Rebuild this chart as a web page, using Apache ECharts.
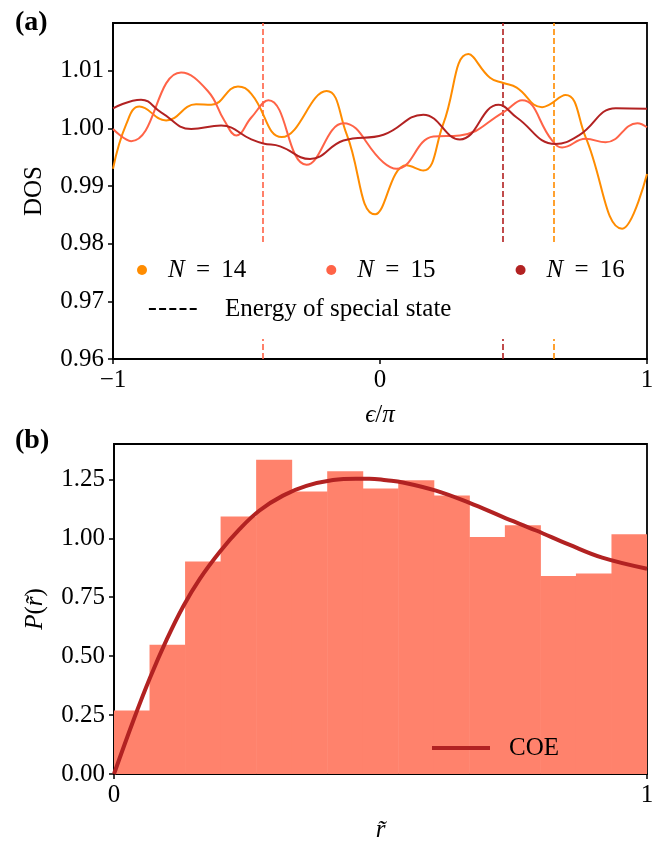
<!DOCTYPE html>
<html>
<head>
<meta charset="utf-8">
<script src="https://cdn.jsdelivr.net/npm/echarts@6/dist/echarts.min.js"></script>
<style>
  html, body { margin: 0; padding: 0; background: #fff; }
  #chart { width: 672px; height: 844px; }
</style>
</head>
<body>
<div id="chart"></div>
<script>
// panel (a): density of states
const n14X = [-1.0, -0.95, -0.901, -0.801, -0.689, -0.632, -0.532, -0.482, -0.368, -0.2, -0.125, -0.018, 0.099, 0.162, 0.237, 0.331, 0.412, 0.462, 0.512, 0.607, 0.695, 0.77, 0.907, 1.0]
const n14Y = [0.993, 1.0008, 1.0038, 1.0014, 1.0042, 1.0041, 1.0073, 1.006, 0.9985, 1.0065, 0.999, 0.9851, 0.9936, 0.9927, 1.0008, 1.0129, 1.0088, 1.0079, 1.0071, 1.0037, 1.0058, 0.9985, 0.9826, 0.9921]
const n15X = [-1.0, -0.932, -0.745, -0.645, -0.582, -0.538, -0.482, -0.418, -0.275, -0.137, 0.013, 0.062, 0.2, 0.299, 0.462, 0.532, 0.645, 0.682, 0.77, 0.845, 0.964, 1.0]
const n15Y = [0.9999, 0.9978, 1.0097, 1.0065, 1.0013, 0.9988, 1.0019, 1.0049, 0.9937, 1.0009, 0.9941, 0.993, 0.9986, 0.9988, 1.0028, 1.0049, 0.9979, 0.9967, 0.9982, 0.9976, 1.0009, 1.0002]
const n16X = [-1.0, -0.895, -0.82, -0.707, -0.595, -0.482, -0.437, -0.374, -0.262, -0.137, 0.013, 0.162, 0.299, 0.444, 0.512, 0.657, 0.745, 0.883, 1.0]
const n16Y = [1.0035, 1.005, 1.0028, 0.9999, 1.0005, 0.9981, 0.9974, 0.9969, 0.9947, 0.9979, 0.9989, 1.0024, 0.9981, 1.0041, 1.0019, 0.9973, 0.9988, 1.0035, 1.0034]
const specialE = { 'N = 14': 0.653, 'N = 15': -0.443, 'N = 16': 0.463 }
const dosTicks = [0.96, 0.97, 0.98, 0.99, 1.0, 1.01]
const epsTicks = [-1, 0, 1]

// panel (b): ratio histogram (15 bins on [0,1]) and COE curve
const histValues = [0.269, 0.548, 0.901, 1.092, 1.333, 1.198, 1.284, 1.211, 1.246, 1.181, 1.005, 1.055, 0.84, 0.851, 1.017]
const coeR = [0, 0.036, 0.067, 0.099, 0.13, 0.161, 0.199, 0.236, 0.273, 0.317, 0.361, 0.411, 0.454, 0.479, 0.511, 0.542, 0.604, 0.667, 0.729, 0.792, 0.854, 0.916, 1.0]
const coeP = [0, 0.225, 0.405, 0.571, 0.712, 0.828, 0.944, 1.04, 1.118, 1.181, 1.222, 1.247, 1.253, 1.253, 1.246, 1.237, 1.202, 1.15, 1.091, 1.033, 0.973, 0.918, 0.871]
const pTicks = [0, 0.25, 0.5, 0.75, 1.0, 1.25]
const rTicks = [0, 1]

const FONT = 'Liberation Serif'
const FS = 25
const colors = { 'N = 14': '#ff8c00', 'N = 15': '#ff6347', 'N = 16': '#b22222' }

const chart = echarts.init(document.getElementById('chart'))

const zip = (xs, ys) => xs.map((x, i) => [x, ys[i]])
const bins = histValues.map((h, i) => [i / histValues.length, (i + 1) / histValues.length, h])
const italic = { i: { fontStyle: 'italic', fontFamily: FONT, fontSize: FS, color: '#000' } }

function axis (ticks, extra, labelFmt) {
  return {
    type: 'value',
    axisLine: { show: true, onZero: false, lineStyle: { color: '#000', width: 1.8 } },
    axisTick: { show: true, inside: false, length: 5, customValues: ticks, lineStyle: { color: '#000', width: 1.5 } },
    axisLabel: { customValues: ticks, fontFamily: FONT, fontSize: FS, color: '#000', margin: 9, formatter: labelFmt },
    splitLine: { show: false },
    nameLocation: 'middle',
    nameTextStyle: { fontFamily: FONT, fontSize: FS, color: '#000', rich: italic },
    ...extra
  }
}
const minus = v => String(v).replace('-', '\u2212')
const two = v => v.toFixed(2)

function dosSeries (name, xs, ys) {
  return {
    name,
    type: 'line',
    xAxisIndex: 0,
    yAxisIndex: 0,
    data: zip(xs, ys),
    smooth: 0.45,
    symbol: 'none',
    lineStyle: { color: colors[name], width: 2 },
    itemStyle: { color: colors[name] },
    z: 2,
    markLine: {
      z: 2,
      silent: true,
      symbol: 'none',
      label: { show: false },
      lineStyle: { color: colors[name], type: [6, 3], width: 1.8, opacity: 0.9 },
      data: [{ xAxis: specialE[name] }]
    }
  }
}

const hiddenSymbol = { color: 'rgba(0,0,0,0)', borderWidth: 0, opacity: 0 }

chart.setOption({
  animation: false,
  textStyle: { fontFamily: FONT },
  title: [
    { text: '(a)', left: 10, top: 4, textStyle: { fontFamily: FONT, fontSize: 28, fontWeight: 'bold', color: '#000' } },
    { text: '(b)', left: 10, top: 422, textStyle: { fontFamily: FONT, fontSize: 28, fontWeight: 'bold', color: '#000' } }
  ],
  grid: [
    { left: 113, top: 23, width: 534, height: 336, show: true, borderColor: '#000', borderWidth: 1.8, backgroundColor: 'transparent' },
    { left: 114, top: 444, width: 533, height: 337, show: true, borderColor: '#000', borderWidth: 1.8, backgroundColor: 'transparent' }
  ],
  xAxis: [
    axis(epsTicks, { gridIndex: 0, min: -1, max: 1, name: '{i|\u03f5}/{i|\u03c0}', nameGap: 44 }, minus),
    axis(rTicks, { gridIndex: 1, min: 0, max: 1, name: '{i|r\u0303}', nameGap: 44 }, v => String(v))
  ],
  yAxis: [
    axis(dosTicks, { gridIndex: 0, min: 0.96, max: 1.0183, name: 'DOS', nameGap: 66 }, two),
    axis(pTicks, { gridIndex: 1, min: 0, max: 1.4, name: '{i|P}({i|r\u0303})', nameGap: 66 }, two)
  ],
  legend: [
    {
      data: ['N = 14', 'N = 15', 'N = 16'],
      left: 116,
      top: 244,
      orient: 'horizontal',
      icon: 'circle',
      itemWidth: 10,
      itemHeight: 10,
      itemGap: 80,
      padding: [13, 6, 56, 21],
      backgroundColor: '#fff',
      selectedMode: false,
      z: 6,
      formatter: n => '{i|N} \u2009= \u2009' + n.slice(4),
      textStyle: {
        fontFamily: FONT,
        fontSize: FS,
        lineHeight: 26,
        color: '#000',
        padding: [0, 0, 0, 16],
        rich: { i: { fontStyle: 'italic', fontFamily: FONT, fontSize: FS, lineHeight: 26 } }
      }
    },
    {
      data: [{ name: 'Energy of special state', itemStyle: hiddenSymbol }],
      left: 143,
      top: 291,
      itemWidth: 50,
      itemHeight: 14,
      selectedMode: false,
      z: 7,
      lineStyle: { color: '#000', type: [7, 3.2], width: 1.8 },
      textStyle: { fontFamily: FONT, fontSize: FS, lineHeight: 26, color: '#000', padding: [0, 0, 0, 21] }
    },
    {
      data: [{ name: 'COE', itemStyle: hiddenSymbol }],
      left: 425,
      top: 730,
      itemWidth: 58,
      itemHeight: 14,
      selectedMode: false,
      lineStyle: { color: '#b22222', width: 4 },
      textStyle: { fontFamily: FONT, fontSize: FS, lineHeight: 26, color: '#000', padding: [0, 0, 0, 14] }
    }
  ],
  series: [
    dosSeries('N = 14', n14X, n14Y),
    dosSeries('N = 15', n15X, n15Y),
    dosSeries('N = 16', n16X, n16Y),
    {
      name: 'Energy of special state',
      type: 'line',
      xAxisIndex: 0,
      yAxisIndex: 0,
      data: [],
      symbol: 'none',
      lineStyle: { color: '#000', type: [7, 3.2], width: 1.8 },
      itemStyle: { color: '#000' }
    },
    {
      name: 'hist',
      type: 'custom',
      xAxisIndex: 1,
      yAxisIndex: 1,
      data: bins,
      clip: true,
      renderItem: (params, api) => {
        const p0 = api.coord([api.value(0), 0])
        const p1 = api.coord([api.value(1), api.value(2)])
        return {
          type: 'rect',
          shape: { x: p0[0], y: p1[1], width: p1[0] - p0[0] + 0.5, height: p0[1] - p1[1] },
          style: { fill: '#ff826c' }
        }
      },
      z: 1
    },
    {
      name: 'COE',
      type: 'line',
      xAxisIndex: 1,
      yAxisIndex: 1,
      data: zip(coeR, coeP),
      smooth: 0.4,
      symbol: 'none',
      lineStyle: { color: '#b22222', width: 4 },
      itemStyle: { color: '#b22222' },
      z: 3
    }
  ]
})
</script>
</body>
</html>
